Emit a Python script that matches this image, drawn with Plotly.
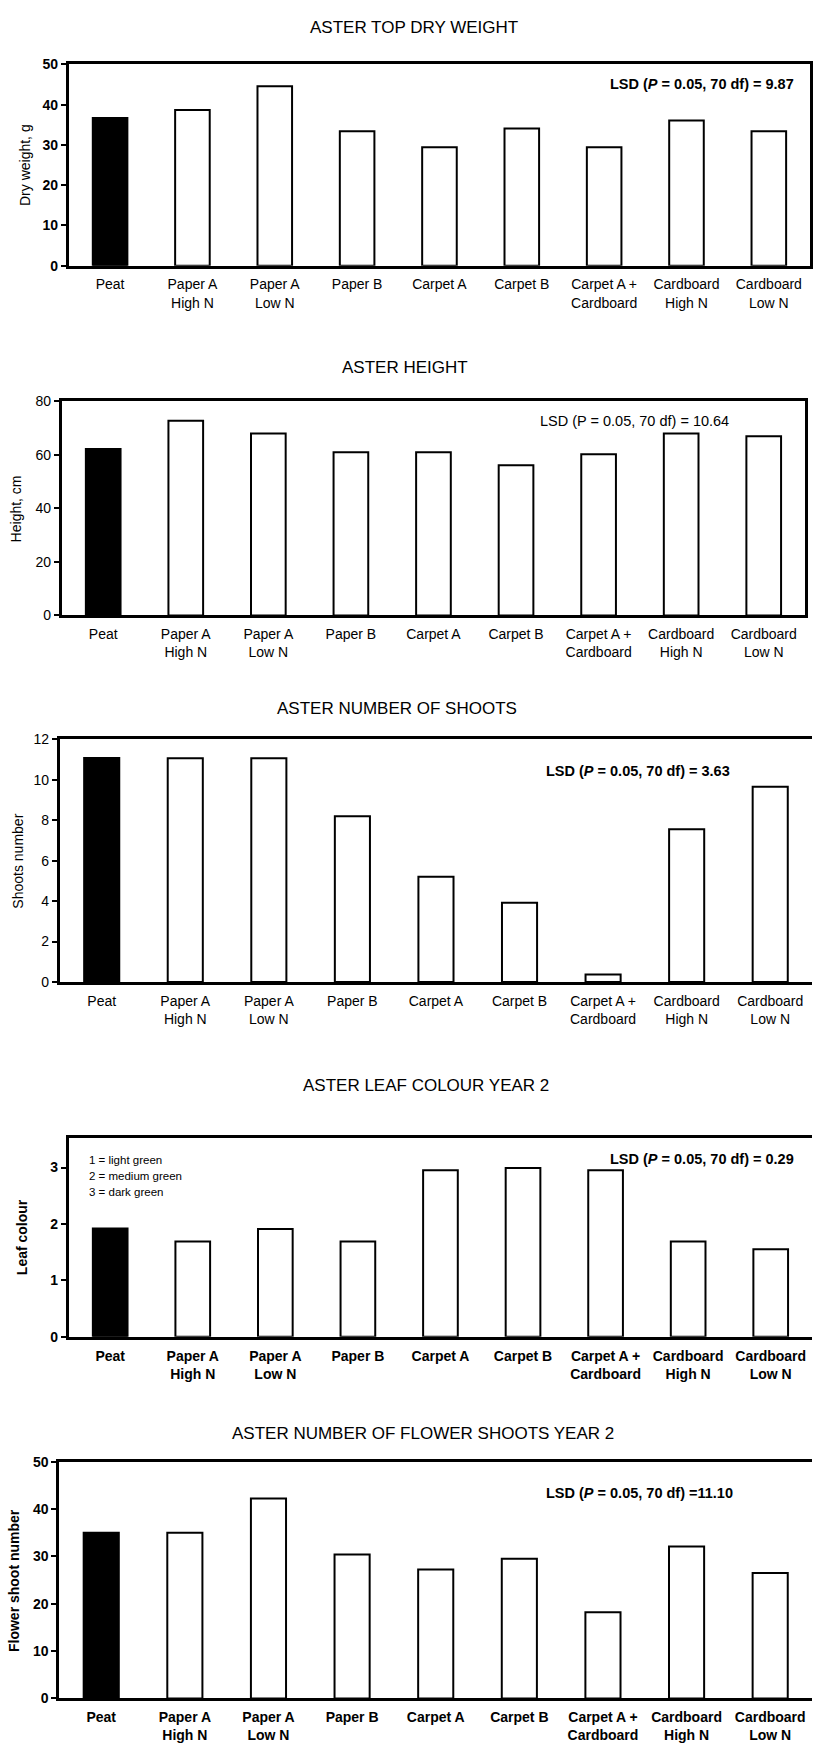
import plotly.graph_objects as go

W, H = 813, 1756

categories = ["Peat", "Paper A<br>High N", "Paper A<br>Low N", "Paper B", "Carpet A",
              "Carpet B", "Carpet A +<br>Cardboard", "Cardboard<br>High N", "Cardboard<br>Low N"]

dry_weight = [36.7, 38.7, 44.6, 33.4, 29.4, 34.1, 29.4, 36.1, 33.4]
height_cm = [62.2, 72.8, 68.0, 61.0, 61.0, 56.1, 60.2, 68.0, 67.0]
shoots = [11.08, 11.06, 11.06, 8.2, 5.2, 3.92, 0.37, 7.55, 9.65]
leaf_colour = [1.92, 1.69, 1.91, 1.69, 2.95, 2.99, 2.95, 1.69, 1.55]
flower_shoots = [35.0, 35.0, 42.2, 30.4, 27.2, 29.5, 18.2, 32.1, 26.5]

titles = ["ASTER TOP DRY WEIGHT", "ASTER HEIGHT", "ASTER NUMBER OF SHOOTS",
          "ASTER LEAF COLOUR YEAR 2", "ASTER NUMBER OF FLOWER SHOOTS YEAR 2"]
y_titles = ["Dry weight, g", "Height, cm", "Shoots number", "Leaf colour", "Flower shoot number"]
lsd_texts = ["LSD (<i>P</i> = 0.05, 70 df) = 9.87",
             "LSD (P = 0.05, 70 df) = 10.64",
             "LSD (<i>P</i> = 0.05, 70 df) = 3.63",
             "LSD (<i>P</i> = 0.05, 70 df) = 0.29",
             "LSD (<i>P</i> = 0.05, 70 df) =11.10"]
legend_lines = ["1 = light green", "2 = medium green", "3 = dark green"]

series = [dry_weight, height_cm, shoots, leaf_colour, flower_shoots]

ARIAL = "Liberation Sans, Arial, sans-serif"
NARROW = "Liberation Sans Narrow, Arial Narrow, Liberation Sans, sans-serif"

# layout in pixels
panels = [
    dict(l=69, r=811, t=57, b=260, ymax=50, dtick=10, mirror_y=True, title_x=415, title_y=20,
         tick_bold=True, cat_bold=False, ytitle_x=25, ytitle_font=ARIAL, ytitle_bold=False, ytitle_size=14,
         lsd_x=797, lsd_y=77, lsd_anchor="right", lsd_bold=True),
    dict(l=62, r=806, t=397, b=613, ymax=80, dtick=20, mirror_y=True, title_x=405, title_y=363,
         tick_bold=False, cat_bold=False, ytitle_x=16, ytitle_font=ARIAL, ytitle_bold=False, ytitle_size=14,
         lsd_x=539, lsd_y=417, lsd_anchor="left", lsd_bold=False),
    dict(l=60, r=813, t=738, b=983, ymax=12, dtick=2, mirror_y=False, title_x=397, title_y=707,
         tick_bold=False, cat_bold=False, ytitle_x=18, ytitle_font=NARROW, ytitle_bold=False, ytitle_size=14,
         lsd_x=545, lsd_y=770, lsd_anchor="left", lsd_bold=True),
    dict(l=69, r=813, t=1140, b=1341, ymax=3.53, dtick=1, mirror_y=False, title_x=427, title_y=1087,
         tick_bold=True, cat_bold=True, ytitle_x=22, ytitle_font=NARROW, ytitle_bold=True, ytitle_size=14,
         lsd_x=797, lsd_y=1162, lsd_anchor="right", lsd_bold=True),
    dict(l=59.5, r=813, t=1467, b=1706, ymax=50, dtick=10, mirror_y=False, title_x=424, title_y=1439,
         tick_bold=True, cat_bold=True, ytitle_x=14, ytitle_font=NARROW, ytitle_bold=True, ytitle_size=14,
         lsd_x=545, lsd_y=1499, lsd_anchor="left", lsd_bold=True),
]

fig = go.Figure()
layout = dict(width=W, height=H, margin=dict(l=0, r=0, t=0, b=0), autosize=False,
              paper_bgcolor="white", plot_bgcolor="white", showlegend=False)
annotations = []

def b(s, bold):
    return f"<b>{s}</b>" if bold else s

for i, (p, vals) in enumerate(zip(panels, series)):
    n = "" if i == 0 else str(i + 1)
    xa, ya = "x" + n, "y" + n
    colors = ["black"] + ["white"] * (len(vals) - 1)
    fig.add_trace(go.Bar(x=list(range(len(vals))), y=vals, xaxis=xa, yaxis=ya, width=0.42,
                         marker=dict(color=colors, line=dict(color="black", width=2)),
                         hoverinfo="skip"))
    spacing = (p["r"] - p["l"]) / 9.0
    xr = [-0.5, -0.5 + (p["r"] - p["l"]) / spacing]
    layout["xaxis" + n] = dict(
        domain=[p["l"] / W, min(p["r"], W) / W], range=xr, anchor=ya,
        tickvals=list(range(len(categories))),
        ticktext=[b(c, p["cat_bold"]) for c in categories],
        tickfont=dict(family=NARROW, size=14, color="black"),
        ticks="", showline=True, linecolor="black", linewidth=3, mirror=True,
        showgrid=False, zeroline=False, fixedrange=True, ticklabelstandoff=4,
        tickangle=0,
    )
    layout["yaxis" + n] = dict(
        domain=[1 - p["b"] / H, 1 - p["t"] / H], range=[0, p["ymax"]], anchor=xa,
        tick0=0, dtick=p["dtick"], ticks="outside", ticklen=5, tickwidth=2, tickcolor="black",
        tickfont=dict(family=ARIAL, size=14, color="black", weight="bold" if p["tick_bold"] else "normal"),
        showline=True, linecolor="black", linewidth=3, mirror=p["mirror_y"],
        showgrid=False, zeroline=False, fixedrange=True,
    )
    annotations.append(dict(text=titles[i], x=p["title_x"] / W, y=1 - p["title_y"] / H,
                            xref="paper", yref="paper", xanchor="center", yanchor="middle",
                            showarrow=False, font=dict(family=NARROW, size=17, color="black")))
    annotations.append(dict(text=b(y_titles[i], p["ytitle_bold"]), x=p["ytitle_x"] / W,
                            y=1 - (p["t"] + p["b"]) / 2 / H, xref="paper", yref="paper",
                            xanchor="center", yanchor="middle", textangle=-90, showarrow=False,
                            font=dict(family=p["ytitle_font"], size=p["ytitle_size"], color="black")))
    annotations.append(dict(text=b(lsd_texts[i], p["lsd_bold"]), x=p["lsd_x"] / W, y=1 - p["lsd_y"] / H,
                            xref="paper", yref="paper", xanchor=p["lsd_anchor"], yanchor="middle",
                            showarrow=False, font=dict(family=NARROW, size=14.5, color="black")))

for k, line in enumerate(legend_lines):
    annotations.append(dict(text=line, x=87 / W, y=1 - (1163 + 16 * k) / H, xref="paper", yref="paper",
                            xanchor="left", yanchor="middle", showarrow=False,
                            font=dict(family=ARIAL, size=11.5, color="black")))

layout["annotations"] = annotations
fig.update_layout(**layout)
fig.write_html("out.html", config={"displayModeBar": False},
               post_script="document.body.style.margin='0';document.body.style.overflow='hidden';")
